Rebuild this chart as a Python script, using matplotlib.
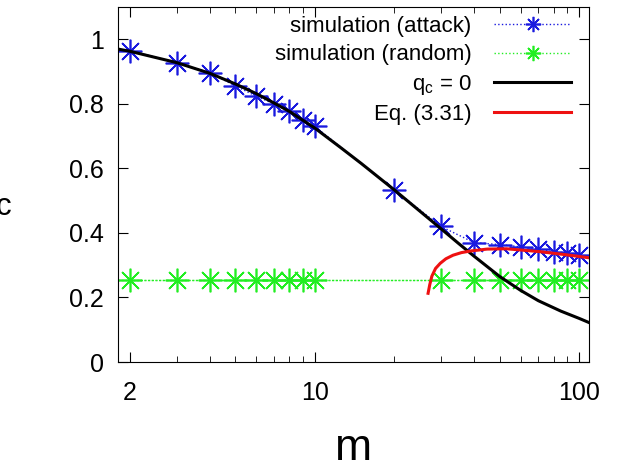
import matplotlib
matplotlib.use("Agg")
import matplotlib.pyplot as plt
from matplotlib.ticker import NullFormatter

plt.rcParams['font.family'] = ['Liberation Sans', 'DejaVu Sans']
plt.rcParams['mathtext.fontset'] = 'custom'
plt.rcParams['mathtext.rm'] = 'Liberation Sans'
plt.rcParams['mathtext.it'] = 'Liberation Sans'

# simulation points
m_attack = [2, 3, 4, 5, 6, 7, 8, 9, 10, 20, 30, 40, 50, 60, 70, 80, 90, 100]
p_attack = [0.965, 0.928, 0.897, 0.856, 0.824, 0.80, 0.777, 0.749, 0.73,
            0.533, 0.42, 0.37, 0.364, 0.357, 0.351, 0.342, 0.338, 0.332]
m_random = [2, 3, 4, 5, 6, 7, 8, 9, 10, 30, 40, 50, 60, 70, 80, 90, 100]
p_random = [0.255] * len(m_random)

# theory curve q_c = 0
m_q0 = [1.8, 2, 3, 4, 5, 6, 7, 8, 10, 12.5, 15, 20, 25, 30, 35, 40, 50,
        60, 70, 85, 100, 109]
p_q0 = [0.970, 0.963, 0.928, 0.895, 0.862, 0.832, 0.803, 0.777, 0.725,
        0.665, 0.615, 0.533, 0.467, 0.413, 0.367, 0.328, 0.265, 0.222,
        0.190, 0.158, 0.135, 0.122]

# Eq. (3.31)
m_eq = [26.8, 27.2, 27.7, 28.6, 29.8, 31.3, 33.3, 35.8, 38.7, 44.8, 53, 71, 90, 109]
p_eq = [0.213, 0.24, 0.266, 0.29, 0.306, 0.32, 0.331, 0.339, 0.344, 0.35,
        0.351, 0.342, 0.332, 0.323]

fig = plt.figure(figsize=(6.17, 4.72), dpi=100)
ax = fig.add_axes([0.191, 0.233, 0.764, 0.752])

ast = (8, 2, 0)
ax.plot(m_attack, p_attack, color='#1a1adf', ls=':', lw=1, marker=ast, ms=17,
        mew=1.2, label='simulation (attack)')
ax.axhline(p_random[0], color='#22ee22', ls=':', lw=1)
ax.plot(m_random, p_random, color='#22ee22', ls=':', lw=1, marker=ast, ms=17,
        mew=1.2, label='simulation (random)')
ax.plot(m_q0, p_q0, color='black', lw=2.2, label=r'q$_{c}$ = 0')
ax.plot(m_eq, p_eq, color='#ee1111', lw=2.2, label='Eq. (3.31)')

ax.set_xscale('log')
ax.set_xlim(1.8, 109)
ax.set_ylim(0, 1.1)
ax.set_xticks([2, 10, 100])
ax.set_xticklabels(['2', '10', '100'])
ax.xaxis.set_minor_formatter(NullFormatter())
ax.set_yticks([0, 0.2, 0.4, 0.6, 0.8, 1])
ax.set_yticklabels(['0', '0.2', '0.4', '0.6', '0.8', '1'])
ax.tick_params(which='both', direction='in', top=True, right=True,
               labelsize=18, pad=10)
ax.tick_params(axis='x', which='both', pad=14)
ax.tick_params(which='major', length=7)
ax.tick_params(which='minor', length=4)

ax.set_xlabel('m', fontsize=32, labelpad=16)
fig.text(0.02, 0.58, r'p$_{c}$', ha='right', va='center', fontsize=32)

leg = ax.legend(loc='upper right', bbox_to_anchor=(0.981, 1.0), frameon=False,
                markerfirst=False, numpoints=1, fontsize=16, handlelength=3.5,
                labelspacing=0.33, borderaxespad=0.0, handletextpad=1.0)
for h in leg.legend_handles[:2]:
    h.set_markersize(11)

fig.savefig('out.png', dpi=100)
